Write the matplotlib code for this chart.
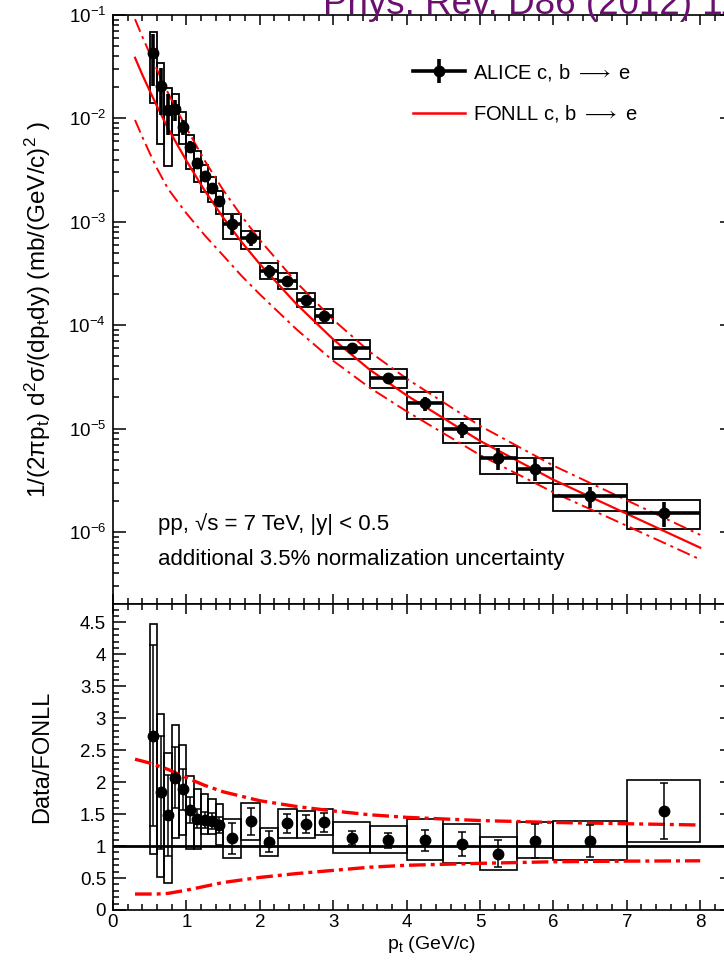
import matplotlib
matplotlib.use("Agg")
import numpy as np
import matplotlib.pyplot as plt
from matplotlib.lines import Line2D
from matplotlib.legend_handler import HandlerTuple
from matplotlib.ticker import LogLocator, NullFormatter, MultipleLocator, LogFormatterSciNotation

plt.rcParams['font.family'] = ['Liberation Sans', 'DejaVu Sans']
plt.rcParams['mathtext.fontset'] = 'custom'
plt.rcParams['mathtext.rm'] = 'Liberation Sans'
plt.rcParams['mathtext.it'] = 'Liberation Sans'
plt.rcParams['mathtext.bf'] = 'Liberation Sans:bold'
plt.rcParams['mathtext.default'] = 'regular'

# --- measured heavy-flavour electron spectrum ---------------------------
pt_lo = [0.5, 0.6, 0.7, 0.8, 0.9, 1.0, 1.1, 1.2, 1.3, 1.4, 1.5, 1.75,
         2.0, 2.25, 2.5, 2.75, 3.0, 3.5, 4.0, 4.5, 5.0, 5.5, 6.0, 7.0]
pt_hi = [0.6, 0.7, 0.8, 0.9, 1.0, 1.1, 1.2, 1.3, 1.4, 1.5, 1.75, 2.0,
         2.25, 2.5, 2.75, 3.0, 3.5, 4.0, 4.5, 5.0, 5.5, 6.0, 7.0, 8.0]
pt_mid = [0.55, 0.65, 0.75, 0.85, 0.95, 1.05, 1.15, 1.25, 1.35, 1.45, 1.625, 1.875,
          2.125, 2.375, 2.625, 2.875, 3.25, 3.75, 4.25, 4.75, 5.25, 5.75, 6.5, 7.5]

yield_val = [4.27e-2, 2.06e-2, 1.20e-2, 1.23e-2, 8.3e-3, 5.3e-3, 3.73e-3, 2.79e-3,
             2.14e-3, 1.59e-3, 9.46e-4, 6.92e-4, 3.34e-4, 2.67e-4, 1.75e-4, 1.23e-4,
             6.03e-5, 3.09e-5, 1.75e-5, 9.9e-6, 5.2e-6, 4.1e-6, 2.23e-6, 1.54e-6]
# relative statistical uncertainty
stat_rel = [0.52, 0.48, 0.43, 0.23, 0.17, 0.13, 0.10, 0.09, 0.09, 0.09, 0.22, 0.15,
            0.15, 0.11, 0.105, 0.105, 0.10, 0.11, 0.15, 0.18, 0.24, 0.24, 0.23, 0.28]
# systematic boxes (absolute)
syst_hi = [6.86e-2, 3.41e-2, 1.95e-2, 1.72e-2, 1.15e-2, 6.9e-3, 4.87e-3, 3.52e-3,
           2.73e-3, 2.0e-3, 1.19e-3, 8.15e-4, 3.98e-4, 3.2e-4, 2.03e-4, 1.44e-4,
           7.27e-5, 3.73e-5, 2.26e-5, 1.25e-5, 6.8e-6, 5.16e-6, 2.89e-6, 2.04e-6]
syst_lo = [1.41e-2, 5.6e-3, 3.49e-3, 6.9e-3, 5.6e-3, 3.24e-3, 2.41e-3, 1.95e-3,
           1.55e-3, 1.19e-3, 6.82e-4, 5.42e-4, 2.8e-4, 2.24e-4, 1.49e-4, 1.05e-4,
           4.66e-5, 2.46e-5, 1.25e-5, 7.2e-6, 3.64e-6, 2.96e-6, 1.6e-6, 1.06e-6]

# --- data / FONLL ----------------------------------------------------------
ratio_val = [2.73, 1.84, 1.48, 2.07, 1.89, 1.56, 1.43, 1.41, 1.39, 1.33, 1.12, 1.39,
             1.07, 1.36, 1.34, 1.37, 1.13, 1.09, 1.09, 1.04, 0.88, 1.08, 1.08, 1.55]
ratio_syst_hi = [4.48, 3.06, 2.45, 2.90, 2.58, 2.10, 1.89, 1.81, 1.74, 1.66, 1.42, 1.67,
                 1.29, 1.58, 1.55, 1.58, 1.38, 1.31, 1.42, 1.34, 1.15, 1.37, 1.40, 2.03]
ratio_syst_lo = [0.875, 0.51, 0.43, 1.12, 1.17, 0.95, 0.95, 1.19, 1.19, 1.02, 0.82, 1.10,
                 0.84, 1.13, 1.13, 1.17, 0.89, 0.89, 0.78, 0.73, 0.625, 0.81, 0.78, 1.06]

# --- FONLL prediction --------------------------------------------------------
fonll_pt = [0.3, 0.4, 0.5, 0.6, 0.75, 1.0, 1.25, 1.5, 1.75, 2.0, 2.5, 3.0,
            3.5, 4.0, 5.0, 6.0, 7.0, 8.0]
fonll_central = [3.86e-2, 2.64e-2, 1.85e-2, 1.31e-2, 8.0e-3, 3.9e-3, 2.0e-3, 1.1e-3,
                 6.4e-4, 3.9e-4, 1.6e-4, 7.3e-5, 3.7e-5, 2.1e-5, 7.6e-6, 3.2e-6,
                 1.5e-6, 7.05e-7]
fonll_up_ratio = [2.36, 2.33, 2.30, 2.26, 2.20, 2.07, 1.95, 1.85, 1.78, 1.71, 1.62, 1.55,
                  1.49, 1.45, 1.40, 1.37, 1.35, 1.33]
fonll_lo_ratio = [0.25, 0.25, 0.25, 0.25, 0.26, 0.31, 0.37, 0.43, 0.47, 0.51, 0.57, 0.62,
                  0.67, 0.70, 0.73, 0.755, 0.765, 0.77]

RED = '#ff0000'
W, H = 724, 960
X0, X1 = 113, 733          # axes left / right in px (right spine sits just off the page)
PX_PER_GEV = 73.4
TOP_Y0, MID_Y, BOT_Y = 15, 604, 910
TOP_H = MID_Y - TOP_Y0
BOT_H = BOT_Y - MID_Y

fig = plt.figure(figsize=(W / 100, H / 100), dpi=100)
ax1 = fig.add_axes([X0 / W, 1 - MID_Y / H, (X1 - X0) / W, TOP_H / H])
ax2 = fig.add_axes([X0 / W, 1 - BOT_Y / H, (X1 - X0) / W, BOT_H / H])

pt_lo_a = np.array(pt_lo)
pt_hi_a = np.array(pt_hi)
widths = pt_hi_a - pt_lo_a
xerr = widths / 2
yv = np.array(yield_val)
sr = np.array(stat_rel)
rv = np.array(ratio_val)

# ---------------- top panel: spectrum ----------------
ax1.bar(pt_lo_a, np.array(syst_hi) - np.array(syst_lo), width=widths, bottom=syst_lo,
        align='edge', fill=False, edgecolor='black', linewidth=1.3, zorder=2)

fc = np.array(fonll_central)
ax1.plot(fonll_pt, fc * np.array(fonll_up_ratio), color=RED, lw=1.4,
         linestyle=(0, (7, 2.5, 1.5, 2.5)), zorder=3)
ax1.plot(fonll_pt, fc * np.array(fonll_lo_ratio), color=RED, lw=1.4,
         linestyle=(0, (7, 2.5, 1.5, 2.5)), zorder=3)
ax1.plot(fonll_pt, fc, color=RED, lw=1.6, zorder=3)

ax1.errorbar(pt_mid, yv, xerr=xerr, yerr=yv * sr, fmt='o', color='black',
             ms=7.5, elinewidth=2.6, capsize=0, zorder=4)

ax1.set_yscale('log')
ax1.set_ylim(10 ** (-6 - 72 / 103.4), 1e-1)
ax1.set_xlim(0, (X1 - X0) / PX_PER_GEV)
ax1.yaxis.set_major_locator(LogLocator(base=10, numticks=10))
ax1.yaxis.set_minor_locator(LogLocator(base=10, subs=np.arange(2, 10), numticks=20))
ax1.yaxis.set_major_formatter(LogFormatterSciNotation())
ax1.yaxis.set_minor_formatter(NullFormatter())
ax1.set_xticklabels([])

ax1.set_ylabel('1/(2\u03c0p$_{t}$) d$^{2}$\u03c3/(dp$_{t}$dy) (mb/(GeV/c)$^{2}$ )',
               fontsize=17.5)
ax1.yaxis.set_label_coords((53 - X0) / (X1 - X0), 0.5)

# legend: data marker with error bars, FONLL central line
h_data = (Line2D([], [], color='black', lw=2.6),
          Line2D([], [], marker='o', ms=7.5, color='black', ls='none'),
          Line2D([], [], marker='|', ms=17, mew=2.6, color='black', ls='none'))
h_fonll = Line2D([], [], color=RED, lw=1.8)
ax1.legend(handles=[h_data, h_fonll],
           labels=[r'ALICE c, b $\longrightarrow$ e', r'FONLL c, b $\longrightarrow$ e'],
           handler_map={tuple: HandlerTuple(ndivide=1, pad=0)},
           loc='upper left',
           bbox_to_anchor=((413 - X0) / (X1 - X0), 1 - (62 - TOP_Y0) / TOP_H),
           frameon=False, fontsize=14.5, handlelength=2.6, handletextpad=0.4,
           labelspacing=1.0, borderaxespad=0, borderpad=0)

ax1.text((158 - X0) / (X1 - X0), (MID_Y - 524) / TOP_H, 'pp, \u221as = 7 TeV, |y| < 0.5',
         transform=ax1.transAxes, fontsize=16, va='center', ha='left')
ax1.text((158 - X0) / (X1 - X0), (MID_Y - 560) / TOP_H,
         'additional 3.5% normalization uncertainty',
         transform=ax1.transAxes, fontsize=16, va='center', ha='left')

# ---------------- bottom panel: data / FONLL ----------------
ax2.bar(pt_lo_a, np.array(ratio_syst_hi) - np.array(ratio_syst_lo), width=widths,
        bottom=ratio_syst_lo, align='edge', fill=False, edgecolor='black',
        linewidth=1.2, zorder=2)
ax2.plot(fonll_pt, fonll_up_ratio, color=RED, lw=2.4, linestyle=(0, (5, 1.5, 1.2, 1.5)),
         zorder=3)
ax2.plot(fonll_pt, fonll_lo_ratio, color=RED, lw=2.4, linestyle=(0, (5, 1.5, 1.2, 1.5)),
         zorder=3)
ax2.axhline(1.0, color='black', lw=2.0, zorder=3)
ax2.errorbar(pt_mid, rv, yerr=rv * sr, fmt='o', color='black', ms=7.5,
             elinewidth=1.1, capsize=3, capthick=1.1, zorder=4)

ax2.set_xlim(0, (X1 - X0) / PX_PER_GEV)
ax2.set_ylim(0, BOT_H / 63.9)
ax2.yaxis.set_major_locator(MultipleLocator(0.5))
ax2.yaxis.set_minor_locator(MultipleLocator(0.1))
ax2.yaxis.set_major_formatter(plt.FuncFormatter(lambda v, _: f'{v:g}'))
ax2.set_ylabel('Data/FONLL', fontsize=17)
ax2.yaxis.set_label_coords((53 - X0) / (X1 - X0), 0.5)
ax2.set_xlabel('p$_{t}$ (GeV/c)', fontsize=14)
ax2.xaxis.set_label_coords((431 - X0) / (X1 - X0), -(934 - BOT_Y) / BOT_H)

for ax in (ax1, ax2):
    ax.xaxis.set_major_locator(MultipleLocator(1))
    ax.xaxis.set_minor_locator(MultipleLocator(0.2))
    ax.tick_params(which='both', direction='in', top=True, right=True, width=1.1,
                   labelsize=13.5)
    ax.tick_params(axis='x', which='major', length=7.5, pad=3)
    ax.tick_params(axis='x', which='minor', length=4.3)
    ax.tick_params(axis='y', which='major', length=9.5, pad=5)
    ax.tick_params(axis='y', which='minor', length=4.6)
    for s in ax.spines.values():
        s.set_linewidth(1.2)

# journal reference running off the top edge
fig.text(323 / W, 1 - 14 / H, 'Phys. Rev. D86 (2012) 112007', color='#6b1070',
         fontsize=26.5, ha='left', va='baseline')

fig.savefig('out.png', dpi=100)
